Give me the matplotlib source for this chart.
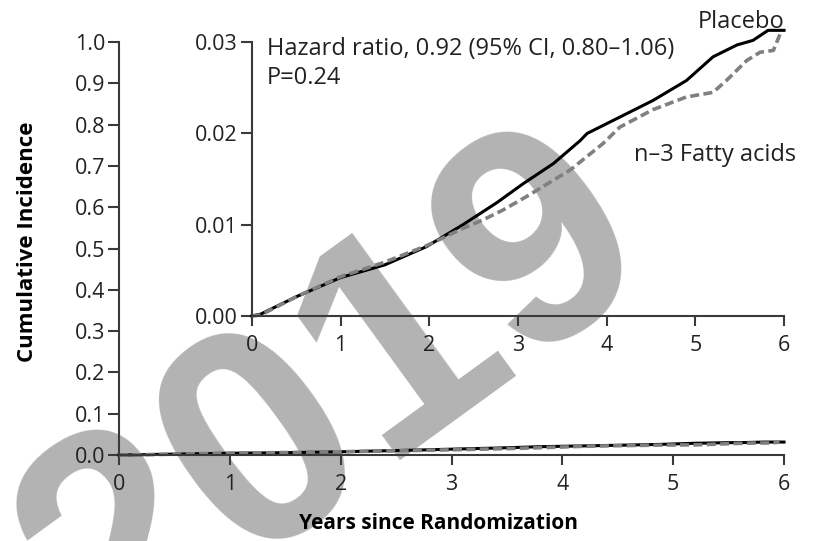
import matplotlib
matplotlib.use("Agg")
import matplotlib.pyplot as plt
import numpy as np

plt.rcParams['font.family'] = ['Open Sans', 'DejaVu Sans']

# datos (años, incidencia acumulada)
t_placebo = [0, 0.1, 0.5, 1.0, 1.5, 1.97, 2.38, 2.76, 3.06, 3.4, 3.7, 3.78,
             4.15, 4.52, 4.9, 5.2, 5.47, 5.65, 5.82, 6.0]
y_placebo = [0, 0.0002, 0.0021, 0.0042, 0.0056, 0.0076, 0.0100, 0.0124, 0.0145,
             0.0167, 0.0192, 0.0200, 0.0218, 0.0236, 0.0258, 0.0284, 0.0297,
             0.0302, 0.0313, 0.0313]

t_omega = [0, 0.1, 0.5, 1.0, 1.5, 1.97, 2.38, 2.6, 2.83, 3.1, 3.59, 3.96,
           4.15, 4.52, 4.9, 5.2, 5.35, 5.58, 5.73, 5.88, 5.96]
y_omega = [0, 0.0001, 0.0021, 0.0043, 0.0059, 0.0077, 0.0096, 0.0105, 0.0116,
           0.0131, 0.0160, 0.0189, 0.0207, 0.0226, 0.0240, 0.0245, 0.0258,
           0.0280, 0.0289, 0.0291, 0.0310]

xticks = [0, 1, 2, 3, 4, 5, 6]
yticks_main = [0.0, 0.1, 0.2, 0.3, 0.4, 0.5, 0.6, 0.7, 0.8, 0.9, 1.0]
yticks_inset = [0.00, 0.01, 0.02, 0.03]

axcolor = '#3a3a3a'
txtcolor = '#222222'
fs_tick = 15.5
fs_txt = 17

fig = plt.figure(figsize=(8.15, 5.41), dpi=100)

# marca de agua (detras de todo)
fig.text(0.47, 0.14, '2019', fontsize=222, fontweight='bold',
         color='#b3b3b3', rotation=36, ha='center', va='baseline',
         rotation_mode='anchor', family='Liberation Sans', zorder=-5)


def estilo(ax, yticks, yfmt):
    for s in ['top', 'right']:
        ax.spines[s].set_visible(False)
    for s in ['left', 'bottom']:
        ax.spines[s].set_color(axcolor)
        ax.spines[s].set_linewidth(1.5)
    ax.set_xlim(0, 6)
    ax.set_xticks(xticks)
    ax.set_yticks(yticks)
    ax.set_yticklabels([yfmt % v for v in yticks])
    ax.tick_params(direction='out', length=8, width=1.5, color=axcolor,
                   labelsize=fs_tick, labelcolor=txtcolor, pad=2)
    ax.tick_params(axis='x', length=7.5, pad=6)
    ax.patch.set_visible(False)


ax = fig.add_axes([0.146, 0.159, 0.816, 0.763])
ax.set_ylim(0, 1.0)
estilo(ax, yticks_main, '%.1f')
ax.plot(t_placebo, y_placebo, color='black', lw=2.2, clip_on=False)
ax.plot(t_omega, y_omega, color='#808080', lw=2.6, ls=(0, (2.5, 1.2)), clip_on=False)
ax.set_xlabel('Years since Randomization', fontsize=15, fontweight='bold')
ax.set_ylabel('Cumulative Incidence', fontsize=16, fontweight='bold')
ax.xaxis.set_label_coords(0.48, -0.14)
ax.yaxis.set_label_coords(-0.122, 0.516)

ins = fig.add_axes([0.309, 0.416, 0.653, 0.506])
ins.set_ylim(0, 0.03)
estilo(ins, yticks_inset, '%.2f')
ins.plot(t_placebo, y_placebo, color='black', lw=2.2, clip_on=False)
ins.plot(t_omega, y_omega, color='#808080', lw=2.6, ls=(0, (2.5, 1.2)), clip_on=False)
ins.text(0.17, 0.0306, 'Hazard ratio, 0.92 (95% CI, 0.80\u20131.06)\nP=0.24',
         fontsize=fs_txt, va='top', ha='left', linespacing=1.3, color=txtcolor)
ins.text(6.0, 0.0316, 'Placebo', fontsize=fs_txt, ha='right', va='baseline',
         color=txtcolor)
ins.text(6.135, 0.0176, 'n\u20133 Fatty acids', fontsize=fs_txt, ha='right',
         va='center', color=txtcolor)

fig.savefig('out.png', dpi=100)
